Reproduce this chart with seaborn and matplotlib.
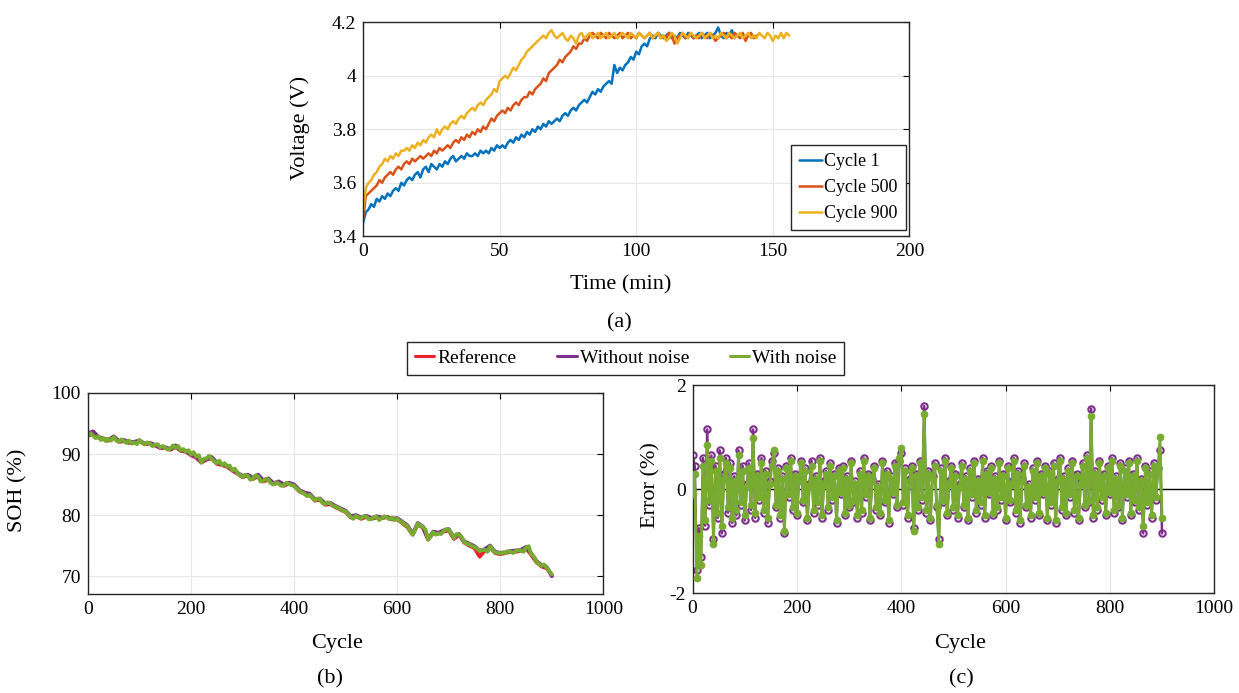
import numpy as np
import pandas as pd
import matplotlib
matplotlib.use("Agg")
import matplotlib.pyplot as plt
import seaborn as sns
from matplotlib.lines import Line2D

# ---- (a) charging voltage curves, one sample per minute ----
time_c1 = np.arange(0, 137, 1)
volt_c1 = [3.45, 3.49, 3.50, 3.52, 3.51, 3.54, 3.53, 3.55, 3.54, 3.56,
           3.55, 3.57, 3.58, 3.57, 3.60, 3.59, 3.61, 3.62, 3.61, 3.63,
           3.64, 3.62, 3.65, 3.66, 3.64, 3.67, 3.66, 3.65, 3.67, 3.66,
           3.68, 3.67, 3.69, 3.70, 3.68, 3.69, 3.70, 3.69, 3.71, 3.70,
           3.70, 3.71, 3.70, 3.72, 3.71, 3.72, 3.71, 3.73, 3.72, 3.74,
           3.73, 3.74, 3.73, 3.75, 3.76, 3.75, 3.77, 3.76, 3.78, 3.77,
           3.79, 3.78, 3.80, 3.79, 3.81, 3.80, 3.82, 3.81, 3.83, 3.82,
           3.83, 3.84, 3.83, 3.85, 3.86, 3.85, 3.87, 3.88, 3.87, 3.89,
           3.90, 3.91, 3.90, 3.92, 3.94, 3.93, 3.95, 3.94, 3.96, 3.97,
           3.98, 3.97, 4.04, 4.01, 4.03, 4.02, 4.04, 4.05, 4.07, 4.06,
           4.09, 4.08, 4.11, 4.12, 4.11, 4.14, 4.15, 4.14, 4.16, 4.15,
           4.14, 4.15, 4.16, 4.14, 4.15, 4.14, 4.16, 4.15, 4.14, 4.16,
           4.15, 4.14, 4.15, 4.16, 4.14, 4.15, 4.16, 4.14, 4.15, 4.16,
           4.18, 4.15, 4.14, 4.16, 4.15, 4.17, 4.14]
time_c500 = np.arange(0, 145, 1)
volt_c500 = [3.46, 3.55, 3.56, 3.57, 3.58, 3.59, 3.61, 3.60, 3.62, 3.63,
             3.64, 3.63, 3.65, 3.66, 3.65, 3.67, 3.68, 3.67, 3.69, 3.68,
             3.69, 3.70, 3.69, 3.70, 3.71, 3.70, 3.72, 3.71, 3.73, 3.72,
             3.73, 3.74, 3.73, 3.75, 3.76, 3.75, 3.77, 3.76, 3.78, 3.77,
             3.79, 3.78, 3.80, 3.79, 3.81, 3.80, 3.82, 3.84, 3.83, 3.85,
             3.86, 3.87, 3.86, 3.88, 3.87, 3.89, 3.90, 3.89, 3.91, 3.92,
             3.92, 3.94, 3.93, 3.95, 3.96, 3.97, 3.99, 3.98, 4.01, 4.02,
             4.03, 4.04, 4.06, 4.05, 4.07, 4.08, 4.09, 4.11, 4.10, 4.12,
             4.12, 4.14, 4.13, 4.15, 4.16, 4.15, 4.14, 4.16, 4.15, 4.14,
             4.16, 4.15, 4.14, 4.15, 4.16, 4.14, 4.15, 4.16, 4.14, 4.15,
             4.14, 4.16, 4.15, 4.14, 4.15, 4.16, 4.14, 4.15, 4.16, 4.14,
             4.15, 4.14, 4.16, 4.15, 4.12, 4.14, 4.15, 4.16, 4.14, 4.15,
             4.16, 4.14, 4.15, 4.14, 4.16, 4.15, 4.14, 4.16, 4.15, 4.13,
             4.14, 4.15, 4.16, 4.14, 4.15, 4.14, 4.16, 4.15, 4.14, 4.16,
             4.13, 4.15, 4.16, 4.14, 4.15]
time_c900 = np.arange(0, 157, 1)
volt_c900 = [3.49, 3.58, 3.60, 3.61, 3.63, 3.64, 3.66, 3.67, 3.69, 3.68,
             3.70, 3.69, 3.71, 3.70, 3.72, 3.72, 3.73, 3.72, 3.74, 3.73,
             3.75, 3.74, 3.76, 3.75, 3.77, 3.78, 3.77, 3.80, 3.78, 3.80,
             3.81, 3.80, 3.82, 3.83, 3.82, 3.84, 3.85, 3.84, 3.86, 3.87,
             3.88, 3.87, 3.89, 3.90, 3.89, 3.91, 3.92, 3.93, 3.95, 3.94,
             3.98, 3.99, 4.00, 3.99, 4.01, 4.03, 4.02, 4.04, 4.06, 4.07,
             4.09, 4.10, 4.11, 4.12, 4.13, 4.14, 4.15, 4.14, 4.16, 4.17,
             4.15, 4.14, 4.15, 4.16, 4.14, 4.13, 4.15, 4.14, 4.12, 4.15,
             4.16, 4.14, 4.15, 4.16, 4.14, 4.15, 4.16, 4.14, 4.15, 4.16,
             4.14, 4.15, 4.16, 4.14, 4.15, 4.16, 4.15, 4.14, 4.16, 4.15,
             4.14, 4.16, 4.15, 4.14, 4.15, 4.16, 4.14, 4.15, 4.16, 4.14,
             4.15, 4.13, 4.14, 4.16, 4.15, 4.12, 4.14, 4.16, 4.15, 4.14,
             4.16, 4.15, 4.14, 4.15, 4.16, 4.14, 4.15, 4.16, 4.14, 4.15,
             4.14, 4.16, 4.15, 4.14, 4.16, 4.15, 4.14, 4.15, 4.16, 4.14,
             4.15, 4.16, 4.14, 4.15, 4.14, 4.16, 4.15, 4.14, 4.16, 4.15,
             4.13, 4.15, 4.14, 4.16, 4.14, 4.16, 4.15]

# ---- (b) SOH estimation ----
soh_cycle = np.arange(0, 901, 10)
soh_ref = [93.0, 93.3, 92.7, 92.4, 92.2, 92.7, 92.0, 92.1, 91.8, 91.9,
           92.1, 91.6, 91.7, 91.4, 91.0, 91.0, 90.7, 91.2, 90.5, 90.4,
           89.8, 89.4, 88.6, 89.1, 89.3, 88.4, 88.2, 87.9, 87.3, 86.8,
           86.2, 86.5, 85.9, 86.4, 85.5, 85.8, 85.1, 85.3, 84.8, 85.2,
           84.8, 83.9, 83.5, 83.3, 82.4, 82.5, 81.7, 81.8, 81.3, 80.9,
           80.5, 79.6, 79.8, 79.4, 79.7, 79.4, 79.6, 79.5, 79.7, 79.3,
           79.3, 78.7, 78.0, 76.8, 78.5, 77.9, 76.0, 77.1, 77.0, 77.3,
           77.5, 76.1, 76.8, 75.5, 75.0, 74.6, 73.2, 74.2, 74.8, 73.8,
           73.6, 73.8, 74.0, 74.0, 74.2, 74.6, 73.5, 72.3, 71.6, 71.3,
           70.2]
soh_clean = [93.4, 93.7, 92.8, 92.5, 92.3, 92.9, 92.1, 92.3, 91.9, 92.0,
             92.2, 91.7, 91.8, 91.5, 91.1, 91.1, 90.8, 91.4, 90.6, 90.5,
             89.9, 89.6, 88.7, 89.2, 89.5, 88.6, 88.3, 88.1, 87.4, 86.9,
             86.4, 86.6, 86.1, 86.6, 85.7, 86.0, 85.2, 85.5, 85.0, 85.3,
             85.0, 84.1, 83.7, 83.5, 82.6, 82.7, 81.9, 82.0, 81.5, 81.1,
             80.7, 79.8, 80.0, 79.6, 79.9, 79.5, 79.8, 79.6, 79.7, 79.4,
             79.5, 78.9, 78.3, 76.9, 78.7, 78.1, 76.1, 77.3, 77.1, 77.5,
             77.7, 76.3, 76.9, 75.7, 75.3, 74.9, 74.2, 74.4, 75.0, 74.0,
             73.8, 73.9, 74.1, 74.2, 74.3, 74.8, 73.7, 72.5, 71.8, 71.5,
             70.0]
noisy_cycle = np.arange(0, 901, 5)
soh_noisy = [93.0, 93.4, 93.0, 92.6, 92.9, 92.3, 92.6, 92.1, 92.5, 92.2,
             92.8, 92.2, 92.0, 92.4, 92.1, 91.8, 92.2, 91.7, 91.9, 91.6,
             92.3, 91.8, 91.6, 91.9, 91.7, 91.3, 91.5, 91.6, 91.1, 91.3,
             91.0, 90.7, 90.9, 91.4, 91.0, 91.3, 90.6, 90.8, 90.4, 90.6,
             89.9, 90.3, 89.6, 89.8, 88.6, 89.2, 89.3, 89.7, 89.2, 88.8,
             88.5, 88.9, 88.2, 88.5, 87.9, 88.1, 87.3, 87.6, 86.9, 86.5,
             86.2, 86.6, 86.4, 85.8, 86.0, 86.5, 86.3, 85.5, 85.6, 85.9,
             85.8, 85.2, 85.0, 85.4, 85.1, 84.8, 84.9, 85.3, 85.1, 84.9,
             84.8, 84.3, 84.0, 83.7, 83.5, 83.1, 83.3, 82.9, 82.4, 82.7,
             82.6, 82.0, 81.8, 82.1, 81.9, 81.5, 81.4, 81.2, 81.0, 80.7,
             80.6, 80.1, 79.7, 79.4, 79.9, 79.6, 79.5, 79.8, 79.8, 79.3,
             79.4, 79.7, 79.7, 79.2, 79.5, 79.8, 79.6, 79.3, 79.6, 79.2,
             79.4, 79.0, 78.8, 78.4, 78.2, 77.4, 76.8, 77.6, 78.6, 78.3,
             78.0, 77.6, 76.0, 76.6, 77.2, 76.8, 77.0, 76.9, 77.4, 77.7,
             77.6, 77.0, 76.2, 76.9, 76.8, 76.4, 75.6, 75.3, 75.2, 74.9,
             74.8, 74.5, 74.1, 74.3, 74.3, 74.0, 74.9, 74.4, 73.9, 73.8,
             73.7, 73.9, 73.8, 74.1, 74.0, 73.8, 74.1, 74.3, 74.2, 74.0,
             74.7, 74.9, 73.6, 73.2, 72.4, 72.0, 71.7, 71.9, 71.4, 70.8,
             70.3]

# ---- (c) estimation error ----
err_cycle = np.arange(0, 901, 4)
err_clean = [0.65, 0.45, -1.55, -0.75, -1.30, 0.60, -0.70, 1.15, -0.30, 0.65,
             -0.95, 0.45, -0.55, 0.75, -0.85, 0.30, 0.60, -0.45, 0.50, -0.65,
             0.25, -0.50, 0.75, -0.30, 0.45, -0.60, 0.10, 0.50, -0.40, 1.15,
             -0.55, 0.30, -0.20, 0.60, -0.45, 0.35, -0.65, 0.15, 0.55, 0.70,
             -0.35, 0.40, -0.55, 0.25, -0.85, 0.45, -0.15, 0.60, -0.40, 0.30,
             -0.50, 0.20, 0.55, -0.25, 0.40, -0.60, 0.10, 0.55, -0.45, 0.25,
             -0.30, 0.60, -0.55, 0.15, 0.35, -0.40, 0.50, -0.20, 0.30, -0.65,
             0.40, -0.10, 0.45, -0.50, 0.25, -0.35, 0.55, -0.25, 0.15, -0.55,
             0.35, -0.45, 0.60, -0.15, 0.30, -0.60, 0.20, 0.45, -0.40, 0.10,
             -0.50, 0.55, -0.25, 0.35, -0.65, 0.25, -0.10, 0.50, -0.35, 0.55,
             0.70, -0.30, 0.40, -0.55, 0.20, 0.45, -0.75, 0.30, -0.40, 0.55,
             -0.20, 1.60, -0.45, 0.35, -0.60, 0.25, 0.50, -0.35, -0.95, 0.40,
             -0.25, 0.60, -0.50, 0.15, 0.45, -0.40, 0.30, -0.55, 0.10, 0.50,
             -0.35, 0.25, -0.60, 0.40, -0.15, 0.55, -0.45, 0.20, -0.30, 0.60,
             -0.55, 0.35, -0.10, 0.45, -0.50, 0.25, -0.40, 0.55, -0.20, 0.30,
             -0.60, 0.45, -0.25, 0.15, 0.60, -0.45, 0.35, -0.65, 0.20, 0.50,
             -0.35, 0.10, -0.55, 0.40, -0.20, 0.55, -0.50, 0.30, -0.10, 0.45,
             -0.60, 0.35, -0.30, 0.50, -0.65, 0.20, 0.60, -0.40, 0.25, -0.50,
             0.40, -0.15, 0.55, -0.45, 0.30, -0.60, 0.15, 0.50, -0.35, 0.65,
             -0.25, 1.55, -0.55, 0.35, -0.40, 0.55, -0.20, 0.30, -0.50, 0.45,
             -0.10, 0.60, -0.45, 0.25, -0.35, 0.50, -0.60, 0.40, -0.15, 0.55,
             -0.50, 0.30, -0.25, 0.60, -0.40, 0.20, -0.85, 0.45, -0.30, 0.35,
             -0.55, 0.50, -0.20, 0.40, 0.75, -0.85]
err_noisy = [-0.10, 0.30, -1.70, -0.90, -1.45, 0.45, -0.60, 0.85, -0.20, 0.55,
             -1.05, 0.35, -0.45, 0.60, -0.70, 0.20, 0.50, -0.35, 0.40, -0.55,
             0.15, -0.40, 0.65, -0.25, 0.35, -0.50, 0.05, 0.40, -0.30, 0.98,
             -0.45, 0.25, -0.15, 0.50, -0.40, 0.30, -0.55, 0.10, 0.45, 0.75,
             -0.30, 0.35, -0.50, 0.20, -0.80, 0.40, -0.10, 0.55, -0.35, 0.25,
             -0.45, 0.15, 0.50, -0.20, 0.35, -0.55, 0.05, 0.45, -0.40, 0.20,
             -0.25, 0.55, -0.50, 0.10, 0.30, -0.35, 0.45, -0.15, 0.25, -0.60,
             0.35, -0.05, 0.40, -0.45, 0.20, -0.30, 0.50, -0.20, 0.10, -0.50,
             0.30, -0.40, 0.55, -0.10, 0.25, -0.55, 0.15, 0.40, -0.35, 0.05,
             -0.45, 0.50, -0.20, 0.30, -0.60, 0.20, -0.05, 0.45, -0.30, 0.60,
             0.80, -0.25, 0.35, -0.50, 0.15, 0.40, -0.80, 0.25, -0.35, 0.50,
             -0.15, 1.45, -0.40, 0.30, -0.55, 0.20, 0.45, -0.30, -1.05, 0.35,
             -0.20, 0.55, -0.45, 0.10, 0.40, -0.35, 0.25, -0.50, 0.05, 0.45,
             -0.30, 0.20, -0.55, 0.35, -0.10, 0.50, -0.40, 0.15, -0.25, 0.55,
             -0.50, 0.30, -0.05, 0.40, -0.45, 0.20, -0.35, 0.50, -0.15, 0.25,
             -0.55, 0.40, -0.20, 0.10, 0.55, -0.40, 0.30, -0.60, 0.15, 0.45,
             -0.30, 0.05, -0.50, 0.35, -0.15, 0.50, -0.45, 0.25, -0.05, 0.40,
             -0.55, 0.30, -0.25, 0.45, -0.60, 0.15, 0.55, -0.35, 0.20, -0.45,
             0.35, -0.10, 0.50, -0.40, 0.25, -0.55, 0.10, 0.45, -0.30, 0.60,
             -0.20, 1.40, -0.50, 0.30, -0.35, 0.50, -0.15, 0.25, -0.45, 0.40,
             -0.05, 0.55, -0.40, 0.20, -0.30, 0.45, -0.55, 0.35, -0.10, 0.50,
             -0.45, 0.25, -0.20, 0.55, -0.35, 0.15, -0.70, 0.40, -0.25, 0.30,
             -0.50, 0.45, -0.15, 0.35, 1.00, -0.55]

volt_ticklabels = ['3.4', '3.6', '3.8', '4', '4.2']
err_ticklabels = ['-2', '0', '2']

C_BLUE, C_ORANGE, C_YELLOW = '#0072BD', '#D95319', '#EDB120'
C_RED, C_PURPLE, C_GREEN = '#F0202A', '#7E2F8E', '#77AC30'

sns.set_style("white")
plt.rcParams['font.family'] = ['Liberation Serif', 'DejaVu Serif']
plt.rcParams['text.color'] = 'black'
plt.rcParams['axes.labelcolor'] = 'black'
plt.rcParams['xtick.color'] = 'black'
plt.rcParams['ytick.color'] = 'black'


def style_axes(ax, xlim, ylim, xticks, yticks):
    ax.set_xlim(xlim)
    ax.set_ylim(ylim)
    ax.set_xticks(xticks)
    ax.set_yticks(yticks)
    ax.grid(True, color='#e6e6e6', lw=0.8)
    ax.set_axisbelow(True)
    ax.tick_params(direction='in', length=4, width=0.8, top=True, right=True,
                   labelsize=14, pad=5)
    for sp in ax.spines.values():
        sp.set_color('#262626')
        sp.set_linewidth(1.0)
        sp.set_visible(True)
    ax.set_xlabel('')
    ax.set_ylabel('')


fig = plt.figure(figsize=(12.39, 6.93), dpi=100)

# (a)
ax_a = fig.add_axes([0.293, 0.659, 0.441, 0.309])
sns.lineplot(x=time_c1, y=volt_c1, ax=ax_a, color=C_BLUE, lw=1.8, label='Cycle 1')
sns.lineplot(x=time_c500, y=volt_c500, ax=ax_a, color=C_ORANGE, lw=1.8, label='Cycle 500')
sns.lineplot(x=time_c900, y=volt_c900, ax=ax_a, color=C_YELLOW, lw=1.8, label='Cycle 900')
style_axes(ax_a, (0, 200), (3.4, 4.2), [0, 50, 100, 150, 200], [3.4, 3.6, 3.8, 4.0, 4.2])
ax_a.set_yticklabels(volt_ticklabels)
leg = ax_a.legend(loc='lower right', bbox_to_anchor=(0.993, 0.028), borderaxespad=0,
                  fontsize=13, handlelength=1.3, handletextpad=0.1, fancybox=False,
                  edgecolor='#262626', framealpha=1, borderpad=0.45, labelspacing=0.5)
leg.get_frame().set_linewidth(1.0)

# (b)
ax_b = fig.add_axes([0.071, 0.143, 0.416, 0.290])
sns.lineplot(x=soh_cycle, y=soh_ref, ax=ax_b, color=C_RED, lw=2.8)
sns.lineplot(x=soh_cycle, y=soh_clean, ax=ax_b, color=C_PURPLE, lw=2.8)
sns.lineplot(x=noisy_cycle, y=soh_noisy, ax=ax_b, color=C_GREEN, lw=2.8)
style_axes(ax_b, (0, 1000), (67.1, 100), [0, 200, 400, 600, 800, 1000], [70, 80, 90, 100])

# (c)
ax_c = fig.add_axes([0.559, 0.144, 0.421, 0.300])
ax_c.axhline(0, color='black', lw=1.0, zorder=1)
sns.lineplot(x=err_cycle, y=err_clean, ax=ax_c, color=C_PURPLE, lw=1.8,
             marker='o', markersize=4.6, markerfacecolor='none',
             markeredgecolor=C_PURPLE, markeredgewidth=1.5, zorder=2)
sns.lineplot(x=err_cycle, y=err_noisy, ax=ax_c, color=C_GREEN, lw=2.0,
             marker='o', markersize=4.8, markerfacecolor=C_GREEN,
             markeredgecolor=C_GREEN, zorder=3)
style_axes(ax_c, (0, 1000), (-2, 2), [0, 200, 400, 600, 800, 1000], [-2, 0, 2])
ax_c.set_yticklabels(err_ticklabels)

# shared legend for (b) and (c)
handles = [Line2D([], [], color=C_RED, lw=2.2),
           Line2D([], [], color=C_PURPLE, lw=2.2),
           Line2D([], [], color=C_GREEN, lw=2.2)]
bleg = fig.legend(handles, ['Reference', 'Without noise', 'With noise'], ncol=3,
                  loc='center', bbox_to_anchor=(0.505, 0.483), fontsize=14,
                  handlelength=1.0, handletextpad=0.15, columnspacing=2.1,
                  fancybox=False, edgecolor='#262626', framealpha=1, borderpad=0.4)
bleg.get_frame().set_linewidth(1.0)

# axis labels and panel tags
fig.text(0.242, 0.815, 'Voltage (V)', rotation=90, ha='center', va='center', fontsize=16)
fig.text(0.501, 0.589, 'Time (min)', ha='center', va='center', fontsize=16)
fig.text(0.500, 0.534, '(a)', ha='center', va='center', fontsize=16)
fig.text(0.0145, 0.293, 'SOH (%)', rotation=90, ha='center', va='center', fontsize=16)
fig.text(0.272, 0.072, 'Cycle', ha='center', va='center', fontsize=16)
fig.text(0.266, 0.020, '(b)', ha='center', va='center', fontsize=16)
fig.text(0.525, 0.300, 'Error (%)', rotation=90, ha='center', va='center', fontsize=16)
fig.text(0.775, 0.072, 'Cycle', ha='center', va='center', fontsize=16)
fig.text(0.776, 0.020, '(c)', ha='center', va='center', fontsize=16)

fig.savefig('out.png', dpi=100)
